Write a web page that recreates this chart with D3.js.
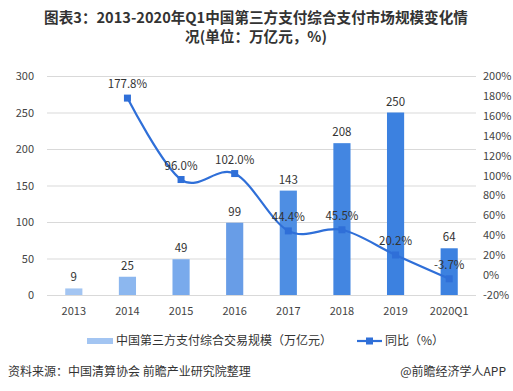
<!DOCTYPE html>
<html><head><meta charset="utf-8">
<script src="https://cdn.jsdelivr.net/npm/d3@7/dist/d3.min.js"></script>
<style>body{margin:0;background:#fff}svg{display:block}text{font-family:"Noto Sans CJK SC","Noto Sans",sans-serif}</style>
</head><body><svg id="c" width="513" height="391"></svg>
<script>
const categories = ["2013","2014","2015","2016","2017","2018","2019","2020Q1"];
const scaleValues = [9,25,49,99,143,208,250,64];
const growthValues = [null,177.8,96.0,102.0,44.4,45.5,20.2,-3.7];
const leftTicks = [0,50,100,150,200,250,300];
const rightTicks = [-20,0,20,40,60,80,100,120,140,160,180,200];
const barColors = ["#a3c5f2","#8cb7ef","#79aaec","#689de7","#4e8ee3","#4386e1","#3c81e0","#3c81e0"];

const svg = d3.select("#c");
const x0 = 47, x1 = 476, yTop = 76, yBot = 295;
const x = d3.scaleBand().domain(categories).range([x0, x1]).paddingInner(0.68).paddingOuter(0.34);
const yL = d3.scaleLinear().domain([0,300]).range([yBot, yTop]);
const yR = d3.scaleLinear().domain([-20,200]).range([yBot, yTop]);
const textColor = "#333";

// title
svg.append("text").attr("x",256).attr("y",23).attr("text-anchor","middle").attr("font-size",14.6).attr("font-weight","bold").attr("fill","#333").text("图表3：2013-2020年Q1中国第三方支付综合支付市场规模变化情");
svg.append("text").attr("x",256).attr("y",42).attr("text-anchor","middle").attr("font-size",14.6).attr("font-weight","bold").attr("fill","#333").text("况(单位：万亿元，%)");

// gridlines
svg.append("g").selectAll("line").data(leftTicks).join("line")
  .attr("x1",x0).attr("x2",x1).attr("y1",d=>yL(d)+0.5).attr("y2",d=>yL(d)+0.5)
  .attr("stroke","#d9d9d9").attr("stroke-width",1);

// left axis
const gl = svg.append("g").attr("transform",`translate(${x0-13},0)`)
  .call(d3.axisLeft(yL).tickValues(leftTicks).tickSize(0).tickPadding(0));
gl.select(".domain").remove();
gl.selectAll("text").attr("font-size",11).attr("fill","#444");

// right axis
const gr = svg.append("g").attr("transform",`translate(${x1+7},0)`)
  .call(d3.axisRight(yR).tickValues(rightTicks).tickSize(0).tickPadding(0).tickFormat(d=>d+"%"));
gr.select(".domain").remove();
gr.selectAll("text").attr("font-size",11).attr("fill","#444");

// bottom axis
const gb = svg.append("g").attr("transform",`translate(0,${yBot})`)
  .call(d3.axisBottom(x).tickSize(0).tickPadding(12));
gb.select(".domain").remove();
gb.selectAll("text").attr("font-size",11).attr("fill","#444");

// bars
svg.append("g").selectAll("rect").data(scaleValues).join("rect")
  .attr("x",(d,i)=>x(categories[i])).attr("width",x.bandwidth())
  .attr("y",d=>yL(d)).attr("height",d=>yBot-yL(d))
  .attr("fill",(d,i)=>barColors[i]);
svg.append("g").selectAll("text").data(scaleValues).join("text")
  .attr("x",(d,i)=>x(categories[i])+x.bandwidth()/2).attr("y",d=>yL(d)-7)
  .attr("text-anchor","middle").attr("font-size",11.5).attr("fill",textColor).text(d=>d);

// line
const pts = growthValues.map((v,i)=>({c:categories[i],v})).filter(d=>d.v!==null);
const cx = d=>x(d.c)+x.bandwidth()/2;
svg.append("path").datum(pts)
  .attr("d",d3.line().x(cx).y(d=>yR(d.v)).curve(d3.curveCatmullRom.alpha(0)))
  .attr("fill","none").attr("stroke","#2f6fd8").attr("stroke-width",2.2);
svg.append("g").selectAll("rect").data(pts).join("rect")
  .attr("x",d=>cx(d)-3.5).attr("y",d=>yR(d.v)-3.5).attr("width",7).attr("height",7)
  .attr("fill","#2f6fd8");
svg.append("g").selectAll("text").data(pts).join("text")
  .attr("x",cx).attr("y",d=>yR(d.v)-10)
  .attr("text-anchor","middle").attr("font-size",11.5).attr("fill",textColor).text(d=>d.v.toFixed(1)+"%");

// legend
const lg = svg.append("g");
lg.append("rect").attr("x",87).attr("y",338).attr("width",26).attr("height",6).attr("fill","#a3c5f2");
lg.append("text").attr("x",116).attr("y",345).attr("font-size",12).attr("fill",textColor).text("中国第三方支付综合交易规模（万亿元）");
lg.append("line").attr("x1",357).attr("x2",382).attr("y1",341).attr("y2",341).attr("stroke","#2f6fd8").attr("stroke-width",2.2);
lg.append("rect").attr("x",366).attr("y",337.5).attr("width",7).attr("height",7).attr("fill","#2f6fd8");
lg.append("text").attr("x",385).attr("y",345).attr("font-size",12).attr("fill",textColor).text("同比（%）");

// source
svg.append("text").attr("x",8).attr("y",376).attr("font-size",12).attr("fill",textColor).text("资料来源：中国清算协会 前瞻产业研究院整理");
svg.append("text").attr("x",506).attr("y",376).attr("text-anchor","end").attr("font-size",12).attr("fill",textColor).text("@前瞻经济学人APP");
</script></body></html>
